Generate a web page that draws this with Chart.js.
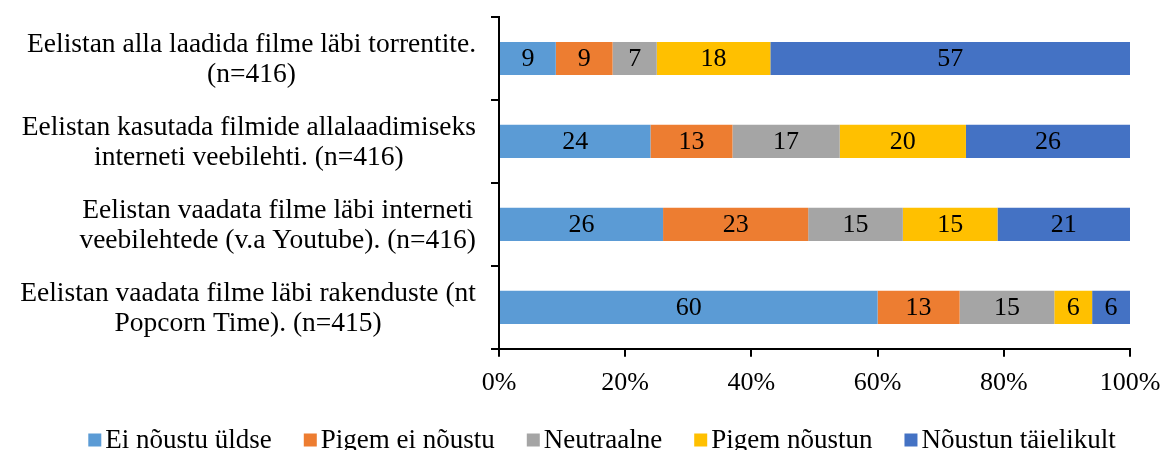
<!DOCTYPE html>
<html>
<head>
<meta charset="utf-8">
<script src="https://cdn.jsdelivr.net/npm/chart.js@4/dist/chart.umd.min.js"></script>
<style>
    html, body { margin: 0; padding: 0; background: #fff; }
    #wrap { width: 1165px; height: 450px; }
</style>
</head>
<body>
<div id="wrap"><canvas id="chart"></canvas></div>
<script>
// categories, one array of lines per bar
const categories = [
    ['Eelistan alla laadida filme läbi torrentite.', '(n=416)'],
    ['Eelistan kasutada filmide allalaadimiseks', 'interneti veebilehti. (n=416)'],
    ['Eelistan vaadata filme läbi interneti', 'veebilehtede (v.a Youtube). (n=416)'],
    ['Eelistan vaadata filme läbi rakenduste (nt', 'Popcorn Time). (n=415)']
];
const seriesNames = ['Ei nõustu üldse', 'Pigem ei nõustu', 'Neutraalne', 'Pigem nõustun', 'Nõustun täielikult'];
const eiNoustu = [9, 24, 26, 60];
const pigemEi = [9, 13, 23, 13];
const neutraalne = [7, 17, 15, 15];
const pigemNoustun = [18, 20, 15, 6];
const taielikult = [57, 26, 21, 6];
const xTicks = [0, 20, 40, 60, 80, 100];

const colors = ['#5B9BD5', '#ED7D31', '#A5A5A5', '#FFC000', '#4472C4'];
const font = 'Liberation Serif';

const categoryLabels = {
    id: 'categoryLabels',
    afterDraw(chart) {
        const ctx = chart.ctx;
        const y = chart.scales.y;
        ctx.save();
        ctx.font = '27.5px "' + font + '"';
        ctx.fillStyle = '#000';
        ctx.textAlign = 'center';
        ctx.textBaseline = 'middle';
        const lh = 30;
        categories.forEach((lines, i) => {
            const maxW = Math.max(...lines.map(l => ctx.measureText(l).width));
            const cx = y.right - 23 - maxW / 2;
            const yc = y.getPixelForValue(i);
            lines.forEach((l, j) => {
                ctx.fillText(l, cx, yc + 1 + (j - (lines.length - 1) / 2) * lh);
            });
        });
        ctx.restore();
    }
};

const barValues = {
    id: 'barValues',
    afterDatasetsDraw(chart) {
        const ctx = chart.ctx;
        ctx.save();
        ctx.font = '26px "' + font + '"';
        ctx.fillStyle = '#000';
        ctx.textAlign = 'center';
        ctx.textBaseline = 'middle';
        chart.data.datasets.forEach((ds, di) => {
            chart.getDatasetMeta(di).data.forEach((bar, i) => {
                const p = bar.getProps(['x', 'base', 'y'], true);
                ctx.fillText(String(ds.data[i]), (p.x + p.base) / 2, p.y + 1);
            });
        });
        ctx.restore();
    }
};

// legend with the box right next to its text, like the original
const bottomLegend = {
    id: 'bottomLegend',
    afterDraw(chart) {
        const ctx = chart.ctx;
        ctx.save();
        ctx.font = '27px "' + font + '"';
        ctx.textBaseline = 'middle';
        ctx.textAlign = 'left';
        const box = 13, gap = 4, spacing = 32;
        const items = chart.data.datasets.map(ds => ({
            text: ds.label, color: ds.backgroundColor, w: ctx.measureText(ds.label).width
        }));
        const total = items.reduce((s, it) => s + box + gap + it.w, 0) + spacing * (items.length - 1);
        let x = 602 - total / 2;
        const yc = 440;
        items.forEach(it => {
            ctx.fillStyle = it.color;
            ctx.fillRect(x, yc - box / 2, box, box);
            ctx.fillStyle = '#000';
            ctx.fillText(it.text, x + box + gap, yc + 1);
            x += box + gap + it.w + spacing;
        });
        ctx.restore();
    }
};

const datasets = [eiNoustu, pigemEi, neutraalne, pigemNoustun, taielikult].map((d, i) => ({
    label: seriesNames[i],
    data: d,
    backgroundColor: colors[i],
    borderWidth: 0,
    categoryPercentage: 0.8,
    barPercentage: 0.5
}));

new Chart(document.getElementById('chart'), {
    type: 'bar',
    data: {
        labels: categories.map(c => c.join(' ')),
        datasets: datasets
    },
    options: {
        indexAxis: 'y',
        responsive: true,
        maintainAspectRatio: false,
        animation: false,
        layout: { padding: { left: 0, right: 35, top: 17, bottom: 40 } },
        plugins: {
            legend: { display: false },
            tooltip: { enabled: false }
        },
        scales: {
            x: {
                stacked: true,
                min: 0,
                max: 100,
                afterBuildTicks: s => { s.ticks = xTicks.map(v => ({ value: v })); },
                afterFit: s => { s.paddingRight = 0; },
                ticks: {
                    callback: v => v + '%',
                    font: { family: font, size: 26 },
                    color: '#000',
                    padding: 11,
                    maxRotation: 0
                },
                grid: { drawOnChartArea: false, color: '#000', tickLength: 8, lineWidth: 2 },
                border: { color: '#000', width: 2 }
            },
            y: {
                stacked: true,
                afterFit: s => { s.width = 499; },
                ticks: { display: false },
                grid: { drawOnChartArea: false, color: '#000', tickLength: 8, lineWidth: 2, offset: true },
                border: { color: '#000', width: 2 }
            }
        }
    },
    plugins: [categoryLabels, barValues, bottomLegend]
});
</script>
</body>
</html>
